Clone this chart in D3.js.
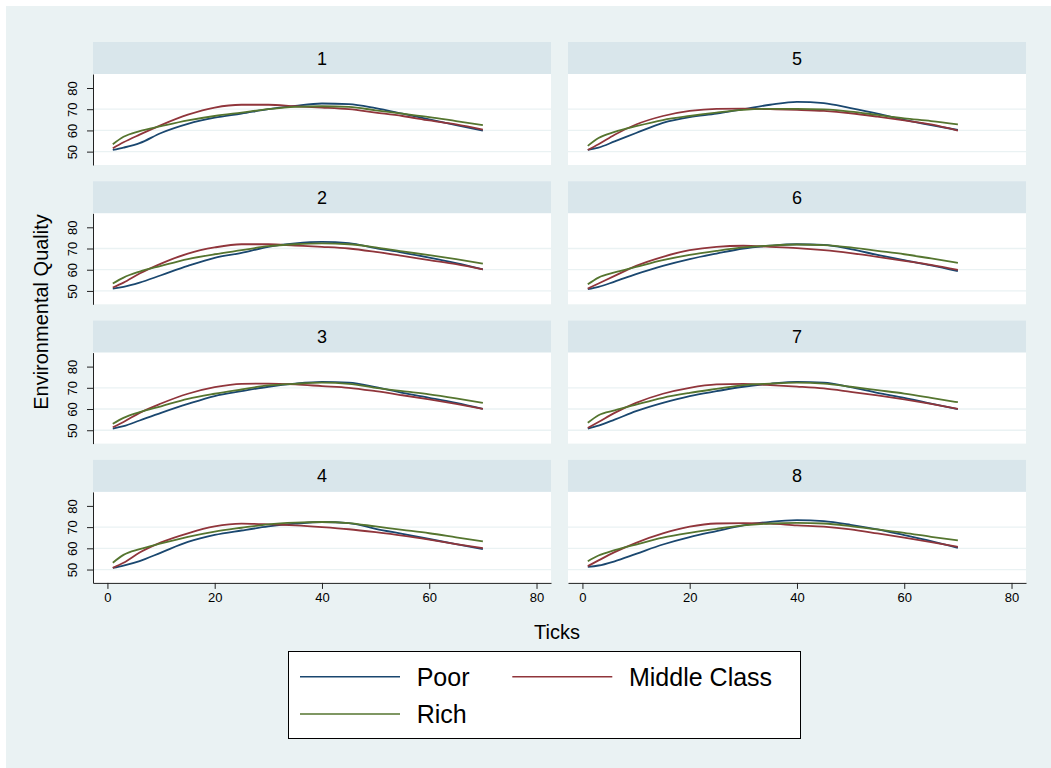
<!DOCTYPE html>
<html>
<head>
<meta charset="utf-8">
<script src="https://cdn.jsdelivr.net/npm/d3@7"></script>
<style>
  body { margin: 0; background: #fff; }
  svg text { font-family: "Liberation Sans", Arial, Helvetica, sans-serif; fill: #000; }
</style>
</head>
<body>
<svg id="chart" width="1051" height="768"></svg>
<script>
var sampleX = [1, 3, 6, 10, 15, 20, 25, 30, 35, 40, 45, 50, 55, 60, 65, 70];

var panelNames = ["1", "2", "3", "4", "5", "6", "7", "8"];
var seriesNames = ["Poor", "Middle Class", "Rich"];
var xTicks = [0, 20, 40, 60, 80];
var yTicks = [50, 60, 70, 80];
var gridValues = [50, 60, 70];

// one row per panel 1..8
var poor = [
  [50.8, 51.9, 54.0, 58.8, 63.1, 66.0, 67.9, 70.0, 71.6, 72.7, 72.4, 70.5, 67.9, 65.2, 62.5, 59.9],
  [51.1, 51.9, 53.9, 57.4, 61.8, 65.6, 67.9, 70.8, 72.4, 73.1, 72.5, 70.2, 68.1, 65.7, 63.1, 60.2],
  [50.8, 51.9, 54.6, 58.2, 62.4, 66.1, 68.4, 70.5, 72.0, 72.8, 72.4, 70.3, 67.6, 65.3, 62.9, 60.1],
  [50.8, 51.9, 54.0, 58.0, 63.0, 66.3, 68.4, 70.3, 71.6, 72.4, 71.9, 69.2, 66.8, 64.4, 62.0, 59.6],
  [50.8, 51.9, 54.8, 58.8, 63.6, 66.3, 67.9, 70.0, 72.1, 73.5, 72.9, 70.5, 67.9, 65.0, 62.5, 60.2],
  [50.8, 51.9, 54.4, 57.9, 61.8, 65.0, 67.6, 70.0, 71.3, 72.0, 71.7, 69.7, 67.0, 64.5, 62.1, 59.4],
  [50.8, 52.2, 55.0, 59.0, 62.9, 66.1, 68.4, 70.5, 71.9, 72.8, 72.4, 70.3, 67.6, 65.3, 62.6, 59.9],
  [51.3, 51.9, 53.9, 57.4, 61.8, 65.3, 68.1, 70.8, 72.5, 73.3, 72.8, 71.1, 68.9, 66.2, 63.4, 60.2]
];
var middle = [
  [51.6, 54.4, 58.0, 62.5, 67.4, 70.8, 72.1, 72.1, 71.4, 70.8, 70.0, 68.4, 66.8, 64.7, 62.8, 60.4],
  [51.6, 53.9, 58.2, 62.9, 67.6, 70.5, 72.0, 72.0, 71.4, 70.8, 70.0, 68.4, 66.5, 64.5, 62.6, 60.2],
  [51.4, 53.9, 58.2, 62.6, 67.2, 70.3, 71.9, 72.0, 71.6, 70.8, 70.0, 68.4, 66.5, 64.5, 62.4, 60.1],
  [50.8, 53.2, 58.0, 62.8, 67.1, 70.3, 71.6, 71.3, 70.8, 70.0, 69.0, 67.6, 66.0, 64.1, 62.0, 60.1],
  [50.8, 53.5, 58.0, 62.8, 66.8, 69.2, 70.2, 70.3, 70.0, 69.7, 69.2, 68.1, 66.5, 64.7, 62.8, 59.9],
  [51.1, 53.5, 57.1, 61.8, 66.1, 69.2, 70.8, 71.3, 70.8, 70.2, 69.2, 67.8, 66.1, 64.2, 62.3, 59.9],
  [51.1, 53.9, 58.2, 62.9, 67.2, 70.0, 71.6, 71.9, 71.3, 70.6, 69.7, 68.1, 66.4, 64.5, 62.4, 60.1],
  [51.6, 54.3, 58.2, 62.6, 67.0, 70.2, 71.7, 71.9, 71.6, 70.8, 70.2, 68.9, 67.0, 65.0, 62.9, 60.7]
];
var rich = [
  [53.5, 57.0, 59.7, 62.0, 64.7, 66.8, 68.4, 70.0, 71.1, 71.4, 71.1, 69.5, 67.9, 66.3, 64.4, 62.5],
  [53.5, 56.3, 59.1, 61.8, 65.0, 67.3, 69.2, 71.1, 72.0, 72.4, 72.0, 70.5, 68.6, 66.9, 65.0, 62.9],
  [53.0, 55.8, 58.5, 61.3, 64.8, 67.2, 69.2, 71.1, 71.9, 72.4, 71.9, 70.0, 68.4, 66.9, 65.0, 62.9],
  [53.2, 56.9, 59.6, 62.3, 65.4, 67.9, 69.7, 71.3, 72.1, 72.4, 71.9, 70.3, 68.7, 67.1, 65.2, 63.3],
  [52.7, 56.4, 59.3, 62.0, 64.9, 66.8, 68.4, 69.7, 70.2, 70.2, 69.9, 68.9, 67.3, 65.7, 64.4, 62.8],
  [53.1, 56.3, 58.7, 61.3, 64.5, 67.0, 68.9, 70.5, 71.4, 71.9, 71.6, 70.5, 68.9, 67.3, 65.3, 63.2],
  [53.5, 57.1, 59.4, 62.1, 65.3, 67.6, 69.5, 71.3, 72.0, 72.4, 72.0, 70.5, 68.9, 67.3, 65.3, 63.2],
  [53.9, 56.6, 59.1, 61.8, 65.0, 67.3, 69.2, 70.8, 71.7, 72.0, 71.7, 70.5, 68.9, 67.3, 65.4, 63.7]
];

var colors = ["#1a476f", "#90353b", "#55752f"];
var bg = "#eaf2f3", stripFill = "#d9e6eb";

var svg = d3.select("#chart");

// ==================== Frame ====================
svg.append("rect")
  .attr("x", 6).attr("y", 6)
  .attr("width", 1045).attr("height", 762)
  .attr("fill", bg);

// ==================== Panel geometry ====================
var colX = [93, 568];
var panelW = 458;
var rowTop0 = 42, rowStep = 139.3;
var stripH = 32, plotH = 91;

var x = d3.scaleLinear().domain([-2.69, 82.7]).range([0, panelW]);
var y = d3.scaleLinear().domain([43.7, 86.6]).range([plotH, 0]);

var line = d3.line()
  .x(function(d) { return x(d[0]); })
  .y(function(d) { return y(d[1]); })
  .curve(d3.curveMonotoneX);

var allSeries = [poor, middle, rich];

panelNames.forEach(function(name, p) {
  var col = Math.floor(p / 4), row = p % 4;
  var top = rowTop0 + row * rowStep;
  var g = svg.append("g").attr("transform", "translate(" + colX[col] + "," + top + ")");

  // strip with panel title
  g.append("rect")
    .attr("width", panelW).attr("height", stripH)
    .attr("fill", stripFill);
  g.append("text")
    .attr("x", panelW / 2).attr("y", stripH / 2 + 6.5)
    .attr("text-anchor", "middle")
    .style("font-size", "18px")
    .text(name);

  var plot = g.append("g").attr("transform", "translate(0," + stripH + ")");
  plot.append("rect")
    .attr("width", panelW).attr("height", plotH)
    .attr("fill", "#fff");

  // grid
  plot.selectAll(".grid")
    .data(gridValues)
    .enter().append("line")
      .attr("class", "grid")
      .attr("x1", 0).attr("x2", panelW)
      .attr("y1", function(d) { return y(d); })
      .attr("y2", function(d) { return y(d); })
      .attr("stroke", bg).attr("stroke-width", 1.3);

  // lines
  allSeries.forEach(function(series, s) {
    var pts = sampleX.map(function(t, i) { return [t, series[p][i]]; });
    plot.append("path")
      .datum(pts)
      .attr("d", line)
      .attr("fill", "none")
      .attr("stroke", colors[s])
      .attr("stroke-width", 1.8);
  });

  // y axis on left column
  if (col === 0) {
    var ya = plot.append("g")
      .call(d3.axisLeft(y).tickValues(yTicks).tickSize(6).tickSizeOuter(0));
    ya.select(".domain").attr("stroke", "#222");
    ya.selectAll(".tick line").attr("stroke", "#222");
    ya.selectAll(".tick text")
      .attr("transform", "rotate(-90)")
      .attr("x", 0).attr("y", -16).attr("dy", 0)
      .attr("text-anchor", "middle")
      .style("font-size", "13px");
  }

  // x axis on bottom row
  if (row === 3) {
    var xa = plot.append("g")
      .attr("transform", "translate(0," + plotH + ")")
      .call(d3.axisBottom(x).tickValues(xTicks).tickSize(6).tickSizeOuter(0));
    xa.select(".domain").attr("stroke", "#222");
    xa.selectAll(".tick line").attr("stroke", "#222");
    xa.selectAll(".tick text")
      .attr("y", 10).attr("dy", "0.71em")
      .style("font-size", "13px");
  }
});

// ==================== Axis titles ====================
svg.append("text")
  .attr("x", 557).attr("y", 639)
  .attr("text-anchor", "middle")
  .style("font-size", "20px")
  .text("Ticks");

svg.append("text")
  .attr("transform", "translate(48,312) rotate(-90)")
  .attr("text-anchor", "middle")
  .style("font-size", "20px")
  .text("Environmental Quality");

// ==================== Legend ====================
var legend = svg.append("g");
legend.append("rect")
  .attr("x", 288.5).attr("y", 651.5)
  .attr("width", 512).attr("height", 87)
  .attr("fill", "#fff")
  .attr("stroke", "#000").attr("stroke-width", 1);

var items = legend.selectAll(".item")
  .data(seriesNames)
  .enter().append("g")
    .attr("class", "item")
    .attr("transform", function(d, i) {
      return "translate(" + (300 + (i % 2) * 212.3) + "," + (676.7 + Math.floor(i / 2) * 37.3) + ")";
    });
items.append("line")
  .attr("x1", 0).attr("x2", 100)
  .attr("stroke", function(d, i) { return colors[i]; })
  .attr("stroke-width", 1.6);
items.append("text")
  .attr("x", 116.7).attr("y", 9)
  .style("font-size", "25px")
  .text(function(d) { return d; });
</script>
</body>
</html>
